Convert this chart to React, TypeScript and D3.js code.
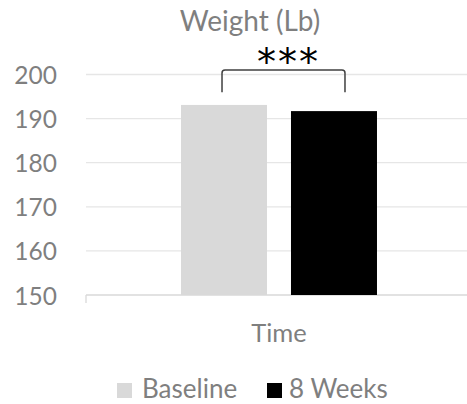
import React from "react";
import { scaleBand, scaleLinear } from "d3";

const categories = ["Time"];
const seriesNames = ["Baseline", "8 Weeks"];
const seriesColors = ["#d9d9d9", "#000000"];
const values = [193.1, 191.7];
const yTicks = [150, 160, 170, 180, 190, 200];
const title = "Weight (Lb)";
const significance = "***";

const WIDTH = 467;
const HEIGHT = 404;
const PLOT_LEFT = 86;
const PLOT_RIGHT = 472;
const PLOT_TOP = 74.5;
const PLOT_BOTTOM = 295;
const TEXT = "#7f7f7f";
const FONT = "Lato, 'Open Sans', sans-serif";

export default function App() {
  const yScale = scaleLinear().domain([150, 200]).range([PLOT_BOTTOM, PLOT_TOP]);
  const xScale = scaleBand().domain(categories).range([PLOT_LEFT, PLOT_RIGHT]);
  const inner = scaleBand()
    .domain(seriesNames)
    .range([0, xScale.bandwidth()])
    .paddingInner(0.218)
    .paddingOuter(0.864);

  const x0 = xScale(categories[0])!;
  const c1 = x0 + inner(seriesNames[0])! + inner.bandwidth() / 2;
  const c2 = x0 + inner(seriesNames[1])! + inner.bandwidth() / 2;
  const bl = c1 - 2;
  const br = c2 + 11;
  const bTop = yScale(201);
  const bBot = yScale(196);

  return (
    <div style={{ position: "absolute", left: 0, top: 0 }}>
      <svg width={WIDTH} height={HEIGHT} fontFamily={FONT}>
        <rect width={WIDTH} height={HEIGHT} fill="#fff" />
        <text x={250} y={31} textAnchor="middle" fontSize={28} fill={TEXT}>
          {title}
        </text>

        {/* grid */}
        {yTicks.map(t => (
          <g key={t}>
            <line
              x1={PLOT_LEFT}
              x2={WIDTH}
              y1={yScale(t)}
              y2={yScale(t)}
              stroke={t === 150 ? "#d9d9d9" : "#e6e6e6"}
              strokeWidth={1.3}
            />
            <text x={57} y={yScale(t) + 9.5} textAnchor="end" fontSize={24.5} fill={TEXT}>
              {t}
            </text>
          </g>
        ))}
        <line x1={PLOT_LEFT} x2={PLOT_LEFT} y1={PLOT_BOTTOM} y2={PLOT_BOTTOM + 8} stroke="#d9d9d9" strokeWidth={1.3} />

        {/* bars */}
        {seriesNames.map((s, i) => (
          <rect
            key={s}
            x={x0 + inner(s)!}
            width={inner.bandwidth()}
            y={yScale(values[i])}
            height={PLOT_BOTTOM - yScale(values[i])}
            fill={seriesColors[i]}
          />
        ))}

        {/* bracket */}
        <path
          d={`M${bl},${bBot} V${bTop + 3} Q${bl},${bTop} ${bl + 3},${bTop} H${br - 3} Q${br},${bTop} ${br},${bTop + 3} V${bBot}`}
          fill="none"
          stroke="#404040"
          strokeWidth={1.5}
        />
        <text
          x={(bl + br) / 2 + 5}
          y={bTop + 5}
          textAnchor="middle"
          fontSize={38}
          fontFamily="'DejaVu Sans', sans-serif"
          letterSpacing={2}
          fill="#000"
        >
          {significance}
        </text>

        {/* x label */}
        <text x={x0 + xScale.bandwidth() / 2} y={342} textAnchor="middle" fontSize={25.5} fill={TEXT}>
          {categories[0]}
        </text>

        {/* legend */}
        {seriesNames.map((s, i) => {
          const lx = [117, 267][i];
          return (
            <g key={s}>
              <rect x={lx} y={383} width={15} height={15} fill={seriesColors[i]} />
              <text x={lx + (i === 0 ? 25 : 22)} y={398} fontSize={26} fill={TEXT}>
                {s}
              </text>
            </g>
          );
        })}
      </svg>
    </div>
  );
}
